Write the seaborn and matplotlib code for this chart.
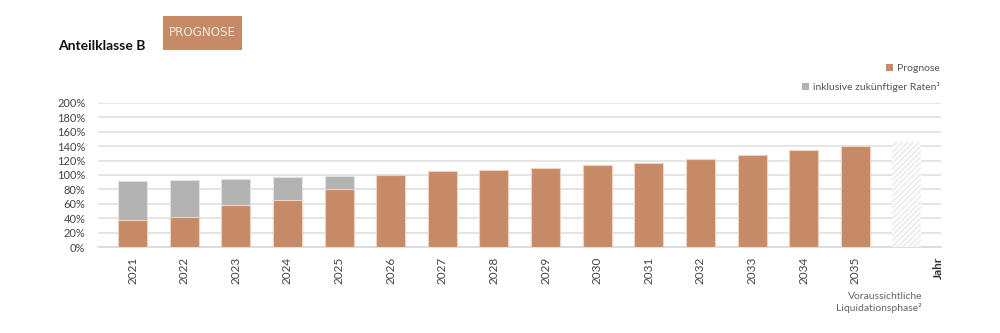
import matplotlib
matplotlib.use("Agg")
import matplotlib.pyplot as plt
from matplotlib.patches import Patch, Rectangle
import seaborn as sns
import pandas as pd
import numpy as np

# ---- data ----
years = ["2021", "2022", "2023", "2024", "2025", "2026", "2027", "2028",
         "2029", "2030", "2031", "2032", "2033", "2034", "2035"]
liquidation_cat = ["Liq"]
prognose = [38, 42, 58, 65, 80, 100, 105, 107, 110, 114, 117, 122, 128, 134, 140]
inkl_raten = [91, 93, 95, 97, 99, 102]          # 2021-2026 incl. future rates
liquidation_value = [146]
yticks = [0, 20, 40, 60, 80, 100, 120, 140, 160, 180, 200]

ORANGE = "#C68A66"
GRAY = "#B3B3B3"

sns.set_theme(style="white")
plt.rcParams["font.family"] = ["Lato", "DejaVu Sans"]
plt.rcParams["hatch.linewidth"] = 0.6

order = years + liquidation_cat
df_prog = pd.DataFrame({"cat": years, "val": prognose})
df_raten = pd.DataFrame({"cat": years[:len(inkl_raten)], "val": inkl_raten})
df_liq = pd.DataFrame({"cat": liquidation_cat, "val": liquidation_value})

fig = plt.figure(figsize=(10, 3.33), dpi=100)
ax = fig.add_axes([0.098, 0.258, 0.843, 0.433])

W = 0.56
sns.barplot(data=df_raten, x="cat", y="val", order=order, color=GRAY,
            saturation=1, width=W, edgecolor="#e2e2e2", linewidth=0.8, ax=ax, zorder=3)
sns.barplot(data=df_prog, x="cat", y="val", order=order, color=ORANGE,
            saturation=1, width=W, edgecolor="#efd3c2", linewidth=0.8, ax=ax, zorder=4)
sns.barplot(data=df_liq, x="cat", y="val", order=order, color="#fbfbfb",
            saturation=1, width=W, edgecolor="#e4e4e4", linewidth=0, hatch="//////",
            ax=ax, zorder=3)

ax.set_xlim(-0.67, 15.66)
ax.set_ylim(0, 200)
ax.set_yticks(yticks)
ax.set_yticklabels([f"{v}%" for v in yticks], fontsize=8, color="#444444")
ax.yaxis.grid(True, color="#dedede", linewidth=1.1, zorder=0)
ax.set_axisbelow(True)
for s in ["top", "right", "left"]:
    ax.spines[s].set_visible(False)
ax.spines["bottom"].set_color("#d6d6d6")
ax.spines["bottom"].set_linewidth(1.1)
ax.tick_params(axis="y", length=0, pad=9)
ax.tick_params(axis="x", length=0, pad=7)
ax.set_xticks(range(len(years)))
ax.set_xticklabels(years, rotation=90, fontsize=8.5, color="#444444")
ax.set_xlabel("")
ax.set_ylabel("")

# axis label "Jahr"
ax.text(0.997, -0.068, "Jahr", transform=ax.transAxes, rotation=90, ha="center",
        va="top", fontsize=8.5, fontweight="bold", color="#333333")

# liquidation label
fig.text(0.922, 0.092, "Voraussichtliche\nLiquidationsphase\u00b2", ha="right", va="center",
         fontsize=7.5, color="#666666", linespacing=1.3)

# title
fig.text(0.058, 0.862, "Anteilklasse B", fontsize=10, fontweight="bold",
         color="#111111", ha="left", va="center")
fig.patches.append(Rectangle((0.163, 1 - 50 / 333), 0.079, 34 / 333,
                             transform=fig.transFigure, facecolor=ORANGE,
                             edgecolor="none", figure=fig))
fig.text(0.2025, 1 - 33 / 333, "PROGNOSE",
         family=["DejaVu Sans"], fontstretch="condensed", fontsize=9.5,
         color="#f5e6dc", ha="center", va="center")

# legends (right-aligned, one entry each)
fig.legend(handles=[Patch(facecolor=ORANGE, edgecolor="none")], labels=["Prognose"],
           loc="upper right", bbox_to_anchor=(0.940, 1 - 64 / 333), frameon=False,
           fontsize=7.5, handlelength=0.65, handleheight=0.65, handletextpad=0.4,
           labelcolor="#555555", borderpad=0, borderaxespad=0)
fig.legend(handles=[Patch(facecolor=GRAY, edgecolor="none")],
           labels=["inklusive zuk\u00fcnftiger Raten\u00b3"],
           loc="upper right", bbox_to_anchor=(0.940, 1 - 82 / 333), frameon=False,
           fontsize=7.5, handlelength=0.65, handleheight=0.65, handletextpad=0.4,
           labelcolor="#555555", borderpad=0, borderaxespad=0)

fig.savefig("out.png", dpi=100)
